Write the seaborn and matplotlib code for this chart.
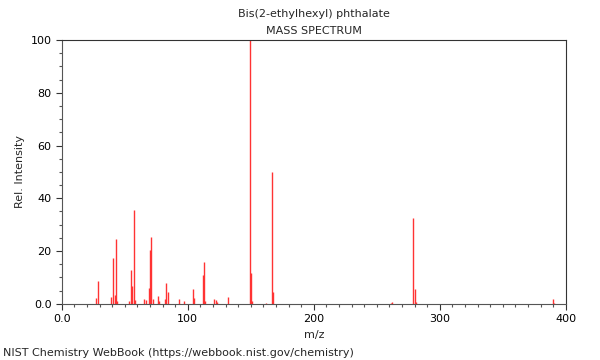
import matplotlib
matplotlib.use("Agg")
import matplotlib.pyplot as plt
from matplotlib.ticker import MultipleLocator
import seaborn as sns
import pandas as pd

TITLE = "Bis(2-ethylhexyl) phthalate"
SUBTITLE = "MASS SPECTRUM"

mz = [27, 29, 39, 41, 42, 43, 44, 53, 55, 56, 57, 58, 65, 67, 69, 70, 71, 72,
      76, 77, 82, 83, 84, 93, 97, 104, 105, 112, 113, 114, 121, 122, 123, 132,
      149, 150, 151, 162, 167, 168, 261, 262, 279, 280, 281, 390, 391]
intensity = [2.2, 8.8, 2.5, 17.3, 3.4, 24.5, 1.0, 1.2, 12.8, 6.8, 35.5, 1.5,
             2.0, 1.5, 6.0, 20.3, 25.3, 2.0, 3.0, 1.0, 2.0, 8.0, 4.5, 2.0, 1.0,
             5.7, 2.3, 10.9, 15.9, 1.0, 2.0, 1.5, 0.8, 2.5, 100.0, 11.7, 1.0,
             0.5, 49.9, 4.4, 0.5, 0.7, 32.5, 5.8, 0.7, 2.0, 0.5]

df = pd.DataFrame({"m/z": mz, "Rel. Intensity": intensity})

sns.set_style("ticks")
plt.rcParams["font.family"] = ["DejaVu Sans"]

fig = plt.figure(figsize=(6, 3.6), dpi=100)
ax = fig.add_axes([0.103, 0.156, 0.84, 0.733])

ax.vlines(df["m/z"], 0, df["Rel. Intensity"], color="#ff3333", linewidth=1.0)

ax.set_xlim(0, 400)
ax.set_ylim(0, 100)
ax.xaxis.set_major_locator(MultipleLocator(100))
ax.xaxis.set_minor_locator(MultipleLocator(10))
ax.yaxis.set_major_locator(MultipleLocator(20))
ax.yaxis.set_minor_locator(MultipleLocator(5))
ax.set_xticks([0, 100, 200, 300, 400])
ax.set_xticklabels(["0.0", "100", "200", "300", "400"])
ax.set_yticks([0, 20, 40, 60, 80, 100])
ax.set_yticklabels(["0.0", "20", "40", "60", "80", "100"])
ax.tick_params(which="major", length=4, width=0.8, labelsize=8, colors="#333333", labelcolor="black")
ax.tick_params(which="minor", length=2.5, width=0.8, colors="#555555")
for side in ["left", "bottom"]:
    ax.spines[side].set_color("#555555")
for side in ["top", "right"]:
    ax.spines[side].set_color("#333333")
for s in ax.spines.values():
    s.set_linewidth(0.8)

ax.set_xlabel("m/z", fontsize=8)
ax.set_ylabel("Rel. Intensity", fontsize=8)

# titles are centred over the axes, not the figure
fig.text(0.523, 0.96, TITLE, ha="center", va="center", fontsize=8)
fig.text(0.523, 0.915, SUBTITLE, ha="center", va="center", fontsize=8)
fig.text(0.005, 0.02, "NIST Chemistry WebBook (https://webbook.nist.gov/chemistry)",
         ha="left", va="center", fontsize=8)

fig.savefig("out.png", dpi=100)
